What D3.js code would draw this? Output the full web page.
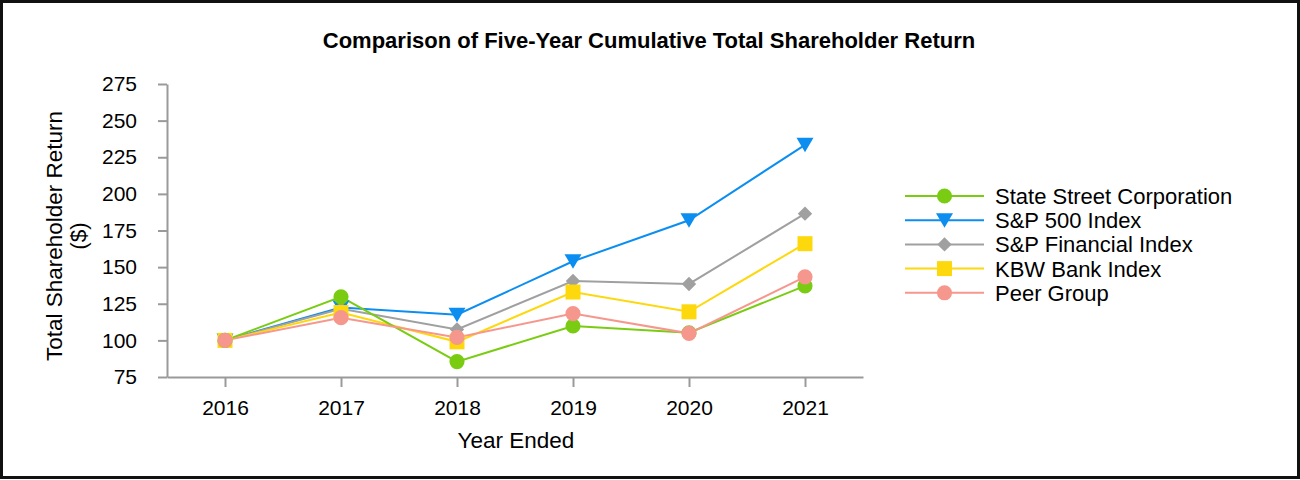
<!DOCTYPE html>
<html>
<head>
<meta charset="utf-8">
<script src="https://cdn.jsdelivr.net/npm/d3@7"></script>
<style>
  html, body { margin: 0; padding: 0; background: #fff; }
  svg { display: block; font-family: "Liberation Sans", Arial, sans-serif; }
</style>
</head>
<body>
<svg id="chart" width="1300" height="480"></svg>
<script>
const years = ["2016", "2017", "2018", "2019", "2020", "2021"];
const yTicks = [75, 100, 125, 150, 175, 200, 225, 250, 275];

const seriesNames = ["State Street Corporation", "S&P 500 Index", "S&P Financial Index", "KBW Bank Index", "Peer Group"];
const stateStreet = [100, 129.7, 85.5, 109.8, 105.2, 137.2];
const sp500       = [100, 122.5, 117.5, 154, 182, 233.5];
const spFinancial = [100, 121.5, 107.5, 140.5, 138.5, 186.5];
const kbwBank     = [100, 119, 99, 133, 119.5, 166];
const peerGroup   = [100, 115.5, 102, 118.3, 104.8, 143.3];

const colors  = ["#7acc12", "#0c8ef0", "#a0a0a0", "#fdd80c", "#f6978d"];
const symbols = ["circle", "triangleDown", "diamond", "square", "circle"];
const allValues = [stateStreet, sp500, spFinancial, kbwBank, peerGroup];

const series = seriesNames.map((name, i) => ({
  name, color: colors[i], symbol: symbols[i],
  values: allValues[i].map((v, j) => ({ year: years[j], value: v }))
}));

const svg = d3.select("#chart");

// outer border
svg.append("rect").attr("x", 1.5).attr("y", 1.5).attr("width", 1297).attr("height", 476)
  .attr("fill", "none").attr("stroke", "#111").attr("stroke-width", 3);

// title
svg.append("text").attr("x", 649).attr("y", 48).attr("text-anchor", "middle")
  .attr("font-size", 22).attr("font-weight", "bold").attr("fill", "#000")
  .text("Comparison of Five-Year Cumulative Total Shareholder Return");

const x = d3.scalePoint().domain(years).range([167, 863]).padding(0.5);
const y = d3.scaleLinear().domain([75, 275]).range([377, 84]);

const axisColor = "#9a9a9a";

const gy = svg.append("g").attr("transform", "translate(167,0)")
  .call(d3.axisLeft(y).tickValues(yTicks).tickSize(9).tickSizeOuter(0).tickPadding(21));
const gx = svg.append("g").attr("transform", "translate(0,377)")
  .call(d3.axisBottom(x).tickSize(10).tickSizeOuter(0).tickPadding(13));

[gx, gy].forEach(g => {
  g.select(".domain").attr("stroke", axisColor).attr("stroke-width", 2);
  g.selectAll(".tick line").attr("stroke", axisColor).attr("stroke-width", 2);
  g.selectAll(".tick text").attr("font-size", 21).attr("fill", "#000")
    .attr("font-family", "'Liberation Sans', Arial, sans-serif");
});

// axis titles
svg.append("text").attr("x", 516).attr("y", 448).attr("text-anchor", "middle")
  .attr("font-size", 22.5).attr("fill", "#000").text("Year Ended");

const yt = svg.append("text").attr("transform", "translate(62,236) rotate(-90)")
  .attr("text-anchor", "middle").attr("font-size", 22.5).attr("fill", "#000");
yt.append("tspan").attr("x", 0).attr("dy", 0).text("Total Shareholder Return");
yt.append("tspan").attr("x", 0).attr("dy", 24).text("($)");

function symPath(kind) {
  if (kind === "circle") return d3.symbol(d3.symbolCircle, 180)();
  if (kind === "square") return d3.symbol(d3.symbolSquare, 225)();
  if (kind === "diamond") return d3.symbol(d3.symbolSquare, 104)();
  if (kind === "triangleDown") return "M-8.5,-7L8.5,-7L0,7.5Z";
  return d3.symbol()();
}
function symTransform(kind, px, py) {
  if (kind === "diamond") return `translate(${px},${py}) rotate(45)`;
  return `translate(${px},${py})`;
}

const line = d3.line().x(d => x(d.year)).y(d => y(d.value));

const drawOrder = [1, 2, 3, 0, 4];
drawOrder.forEach(i => {
  const s = series[i];
  svg.append("path").datum(s.values).attr("d", line)
    .attr("fill", "none").attr("stroke", s.color).attr("stroke-width", 2);
});
drawOrder.forEach(i => {
  const s = series[i];
  svg.append("g").selectAll("path").data(s.values).join("path")
    .attr("d", symPath(s.symbol))
    .attr("transform", d => symTransform(s.symbol, x(d.year), y(d.value)))
    .attr("fill", s.color);
});

// legend
const legend = svg.append("g");
series.forEach((s, i) => {
  const ly = 196 + i * 24.2;
  legend.append("line").attr("x1", 905).attr("x2", 984).attr("y1", ly).attr("y2", ly)
    .attr("stroke", s.color).attr("stroke-width", 2);
  legend.append("path").attr("d", symPath(s.symbol))
    .attr("transform", symTransform(s.symbol, 944.5, ly)).attr("fill", s.color);
  legend.append("text").attr("x", 995).attr("y", ly + 8).attr("font-size", 22)
    .attr("fill", "#000").text(s.name);
});
</script>
</body>
</html>
